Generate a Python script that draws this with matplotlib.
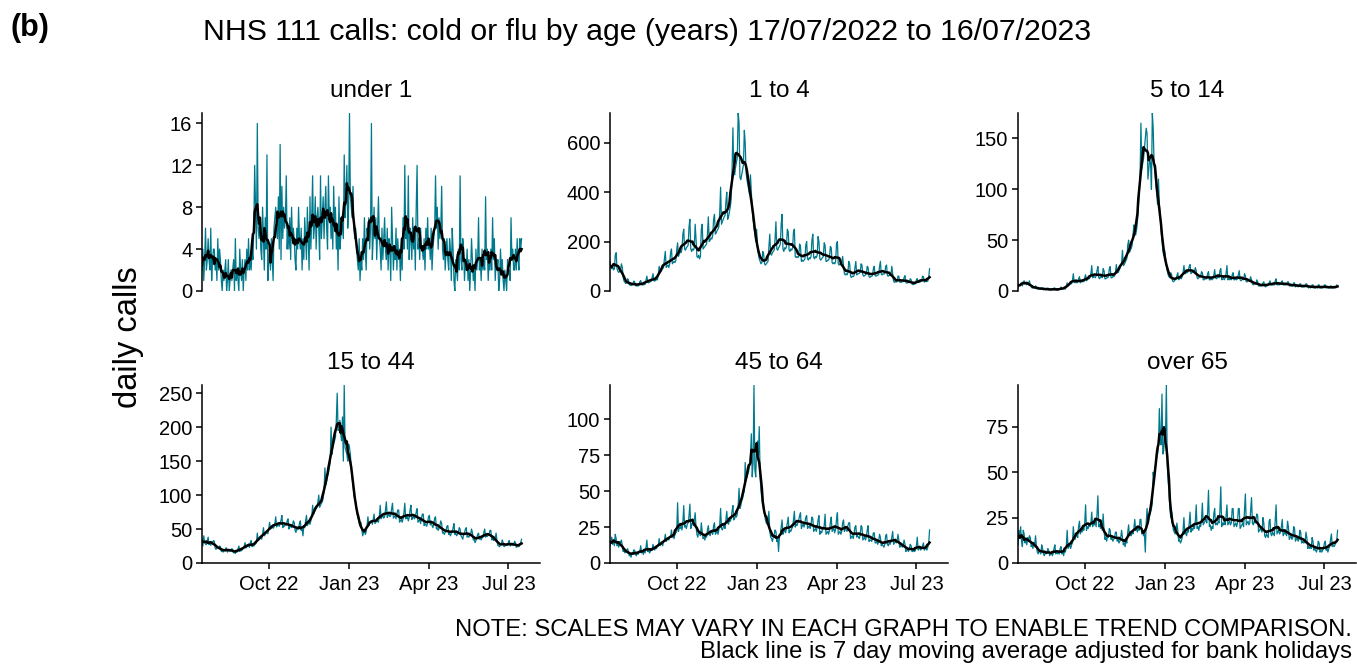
import matplotlib.pyplot as plt
import matplotlib.dates as mdates
import pandas as pd

plt.rcParams['font.family'] = ['Liberation Sans', 'DejaVu Sans']

dates = pd.date_range("2022-07-17", "2023-07-16", freq="D")

panel_titles = ["under 1", "1 to 4", "5 to 14", "15 to 44", "45 to 64", "over 65"]

# daily calls, one row = two weeks starting on a Sunday
under_1 = [
    2, 4, 1, 3, 6, 2, 3, 5, 3, 2, 6, 1, 3, 4,
    4, 2, 3, 1, 5, 2, 4, 3, 1, 0, 2, 1, 2, 3,
    0, 1, 3, 0, 1, 2, 1, 2, 3, 0, 5, 1, 2, 1,
    0, 4, 2, 1, 3, 0, 2, 3, 1, 4, 2, 5, 2, 3,
    2, 4, 3, 6, 12, 8, 4, 16, 6, 5, 7, 4, 3, 8,
    5, 2, 7, 4, 13, 1, 3, 4, 2, 5, 3, 1, 6, 7,
    8, 6, 5, 9, 4, 14, 3, 10, 5, 8, 6, 7, 11, 4,
    6, 4, 7, 3, 8, 5, 6, 5, 3, 2, 6, 4, 8, 5,
    4, 6, 2, 5, 3, 7, 5, 3, 8, 5, 2, 9, 4, 7,
    11, 5, 6, 9, 4, 7, 8, 6, 3, 11, 5, 7, 9, 5,
    8, 10, 6, 4, 11, 7, 8, 5, 7, 4, 10, 6, 8, 4,
    6, 2, 9, 4, 5, 7, 6, 5, 13, 7, 9, 12, 6, 8,
    17, 9, 8, 7, 10, 6, 5, 6, 4, 3, 2, 5, 1, 3,
    2, 5, 3, 7, 4, 2, 6, 5, 7, 4, 6, 16, 3, 5,
    8, 5, 7, 3, 6, 9, 5, 4, 2, 6, 3, 5, 7, 4,
    3, 6, 2, 5, 4, 1, 8, 5, 2, 4, 3, 6, 2, 5,
    3, 4, 1, 5, 2, 7, 4, 12, 5, 7, 4, 11, 3, 6,
    5, 3, 7, 4, 6, 2, 8, 12, 4, 5, 3, 6, 4, 4,
    3, 5, 2, 6, 4, 7, 4, 5, 3, 6, 2, 4, 5, 6,
    11, 6, 8, 4, 7, 5, 6, 10, 4, 3, 5, 2, 4, 5,
    3, 2, 5, 4, 1, 6, 4, 1, 0, 3, 2, 1, 4, 2,
    11, 3, 2, 5, 4, 1, 3, 2, 4, 1, 3, 0, 2, 5,
    3, 1, 2, 0, 4, 2, 3, 7, 2, 3, 1, 4, 2, 3,
    2, 9, 3, 4, 1, 3, 2, 4, 2, 7, 3, 5, 1, 3,
    2, 3, 0, 1, 4, 2, 3, 1, 0, 2, 1, 0, 3, 2,
    2, 1, 7, 3, 4, 2, 2, 4, 2, 5, 3, 2, 5, 4,
    5,
]

age_1_4 = [
    120, 95, 90, 100, 85, 90, 145, 155, 90, 80, 75, 80, 85, 110,
    95, 55, 40, 35, 30, 35, 50, 45, 25, 25, 22, 24, 26, 40,
    38, 22, 20, 21, 20, 24, 38, 42, 25, 24, 26, 25, 28, 45,
    60, 35, 33, 36, 38, 40, 55, 70, 42, 40, 44, 46, 45, 68,
    100, 75, 80, 85, 90, 95, 130, 160, 95, 100, 105, 95, 110, 155,
    170, 110, 115, 120, 115, 125, 165, 195, 140, 150, 160, 155, 170, 230,
    250, 170, 165, 175, 180, 185, 260, 290, 170, 160, 170, 165, 175, 270,
    210, 140, 135, 145, 130, 140, 250, 270, 170, 175, 180, 185, 190, 230,
    300, 200, 205, 215, 210, 225, 290, 310, 230, 235, 245, 250, 260, 320,
    420, 270, 280, 290, 300, 305, 360, 400, 290, 300, 320, 340, 370, 480,
    660, 480, 470, 500, 520, 540, 720, 680, 460, 450, 470, 490, 510, 650,
    600, 480, 450, 430, 410, 390, 470, 400, 330, 290, 260, 230, 200, 250,
    180, 150, 130, 120, 110, 115, 160, 150, 110, 105, 110, 115, 120, 180,
    230, 150, 145, 155, 160, 165, 210, 280, 170, 165, 175, 180, 190, 270,
    310, 170, 160, 175, 170, 180, 250, 240, 165, 160, 170, 165, 175, 240,
    250, 140, 135, 140, 135, 140, 190, 180, 120, 125, 120, 125, 130, 185,
    200, 130, 125, 135, 130, 140, 205, 230, 135, 130, 140, 135, 145, 220,
    200, 130, 125, 130, 135, 140, 195, 185, 120, 120, 125, 125, 135, 180,
    175, 115, 110, 115, 110, 120, 190, 200, 110, 105, 110, 105, 115, 140,
    100, 70, 65, 70, 65, 75, 120, 110, 60, 55, 60, 58, 62, 95,
    120, 65, 68, 70, 72, 75, 110, 105, 65, 60, 62, 65, 70, 100,
    95, 58, 55, 58, 60, 62, 90, 100, 62, 60, 62, 64, 66, 98,
    120, 68, 65, 70, 68, 72, 100, 105, 62, 60, 65, 62, 65, 100,
    70, 40, 35, 38, 36, 38, 60, 60, 36, 35, 36, 38, 38, 55,
    62, 34, 32, 33, 35, 36, 50, 45, 28, 26, 27, 28, 30, 45,
    50, 34, 35, 36, 38, 40, 60, 58, 36, 38, 40, 38, 40, 55,
    90,
]

age_5_14 = [
    3, 6, 5, 7, 8, 5, 9, 10, 8, 7, 6, 8, 7, 10,
    6, 4, 3, 3, 4, 3, 5, 4, 2, 2, 2, 2, 3, 3,
    3, 1, 2, 2, 1, 2, 3, 2, 1, 1, 1, 2, 1, 3,
    3, 1, 1, 1, 1, 2, 2, 4, 2, 2, 3, 2, 2, 4,
    8, 5, 6, 7, 8, 7, 10, 17, 9, 8, 9, 8, 9, 12,
    14, 8, 9, 9, 10, 9, 13, 16, 10, 11, 12, 12, 13, 17,
    25, 13, 14, 14, 13, 15, 20, 24, 13, 12, 14, 14, 13, 22,
    20, 12, 12, 13, 13, 14, 22, 24, 13, 13, 14, 14, 15, 18,
    26, 18, 18, 20, 22, 24, 28, 40, 25, 26, 28, 30, 32, 45,
    50, 38, 40, 42, 45, 55, 65, 62, 55, 60, 68, 80, 95, 110,
    165, 120, 125, 130, 140, 150, 160, 155, 110, 120, 130, 125, 100, 175,
    160, 125, 115, 105, 95, 85, 110, 85, 75, 60, 50, 40, 35, 40,
    32, 25, 20, 16, 14, 13, 18, 16, 10, 9, 10, 11, 12, 15,
    18, 11, 12, 13, 12, 14, 18, 25, 18, 17, 19, 18, 20, 24,
    26, 17, 18, 19, 18, 19, 23, 20, 13, 12, 13, 14, 14, 19,
    18, 11, 11, 12, 12, 12, 17, 19, 11, 11, 12, 11, 12, 15,
    21, 13, 12, 13, 14, 13, 20, 22, 11, 12, 12, 11, 13, 17,
    25, 11, 12, 11, 12, 11, 16, 18, 11, 11, 12, 11, 12, 16,
    20, 11, 10, 11, 12, 11, 17, 15, 9, 9, 10, 10, 10, 14,
    11, 7, 6, 7, 7, 7, 11, 9, 5, 5, 5, 5, 5, 8,
    9, 5, 4, 5, 5, 6, 8, 10, 6, 6, 6, 6, 6, 10,
    12, 6, 6, 7, 6, 7, 9, 10, 6, 6, 6, 6, 7, 9,
    9, 5, 5, 5, 5, 5, 8, 8, 4, 5, 5, 4, 5, 7,
    7, 4, 4, 4, 4, 5, 7, 7, 4, 3, 4, 3, 4, 6,
    6, 3, 3, 3, 4, 3, 6, 6, 3, 3, 3, 3, 4, 6,
    6, 3, 3, 4, 3, 3, 5, 5, 3, 3, 3, 4, 3, 6,
    5,
]

age_15_44 = [
    35, 25, 40, 30, 28, 27, 32, 38, 27, 29, 26, 31, 30, 33,
    32, 22, 20, 24, 23, 22, 25, 24, 17, 18, 16, 19, 18, 22,
    22, 16, 18, 19, 17, 20, 21, 20, 15, 16, 14, 17, 16, 21,
    25, 17, 19, 18, 20, 22, 24, 30, 22, 25, 24, 28, 23, 30,
    33, 24, 26, 25, 27, 28, 30, 44, 33, 34, 36, 38, 35, 42,
    52, 40, 42, 44, 46, 43, 50, 60, 50, 52, 55, 51, 53, 58,
    68, 53, 55, 57, 54, 58, 63, 70, 52, 55, 54, 58, 56, 62,
    65, 50, 53, 55, 52, 54, 62, 60, 48, 45, 52, 49, 50, 58,
    62, 48, 50, 40, 55, 52, 62, 70, 55, 58, 60, 57, 62, 68,
    85, 72, 75, 78, 80, 82, 90, 100, 82, 85, 88, 90, 95, 105,
    140, 115, 120, 128, 132, 140, 148, 200, 160, 170, 175, 180, 185, 210,
    250, 195, 200, 210, 190, 180, 215, 150, 262, 170, 165, 160, 150, 175,
    170, 160, 140, 125, 115, 100, 95, 90, 80, 70, 65, 60, 55, 60,
    50, 40, 45, 48, 42, 46, 55, 68, 55, 58, 60, 62, 57, 64,
    72, 58, 60, 62, 61, 60, 70, 85, 65, 68, 70, 66, 68, 78,
    90, 67, 70, 72, 68, 70, 80, 88, 66, 68, 70, 65, 72, 78,
    78, 60, 62, 64, 60, 65, 74, 88, 65, 66, 68, 62, 67, 78,
    85, 64, 66, 70, 65, 68, 75, 80, 60, 62, 64, 58, 66, 72,
    72, 55, 58, 56, 54, 60, 68, 70, 56, 62, 55, 52, 58, 66,
    68, 50, 52, 48, 51, 55, 62, 58, 44, 45, 42, 45, 48, 54,
    55, 42, 43, 40, 44, 45, 52, 58, 42, 44, 40, 42, 45, 52,
    50, 40, 38, 35, 42, 44, 50, 52, 38, 40, 38, 41, 42, 50,
    45, 34, 35, 30, 33, 37, 42, 44, 35, 36, 34, 37, 38, 45,
    50, 38, 40, 39, 41, 42, 48, 48, 34, 36, 33, 35, 37, 44,
    32, 26, 25, 24, 27, 28, 34, 30, 24, 25, 26, 27, 26, 31,
    33, 25, 26, 27, 26, 27, 32, 30, 23, 24, 25, 24, 26, 30,
    35,
]

age_45_64 = [
    12, 14, 18, 13, 16, 12, 20, 17, 12, 13, 11, 15, 14, 16,
    12, 8, 9, 7, 8, 9, 10, 8, 5, 6, 4, 7, 6, 9,
    9, 6, 5, 7, 6, 8, 8, 12, 7, 8, 6, 9, 7, 11,
    16, 8, 9, 7, 8, 9, 10, 13, 10, 9, 11, 10, 12, 12,
    17, 12, 13, 14, 12, 15, 16, 20, 15, 16, 17, 16, 18, 18,
    23, 18, 19, 17, 20, 21, 22, 42, 22, 25, 24, 26, 23, 28,
    40, 25, 26, 24, 27, 28, 33, 41, 24, 27, 28, 26, 30, 35,
    25, 20, 18, 22, 21, 19, 28, 22, 17, 18, 16, 19, 18, 23,
    26, 20, 19, 21, 22, 20, 26, 28, 20, 21, 22, 20, 23, 27,
    38, 24, 23, 25, 26, 24, 30, 36, 28, 27, 30, 29, 31, 36,
    40, 30, 31, 33, 32, 34, 40, 52, 38, 40, 43, 45, 48, 50,
    70, 58, 60, 62, 64, 68, 75, 90, 60, 70, 124, 65, 60, 80,
    85, 75, 95, 60, 50, 45, 40, 40, 35, 30, 28, 27, 30, 36,
    22, 18, 17, 15, 18, 20, 23, 22, 15, 17, 8, 19, 20, 25,
    30, 20, 22, 23, 21, 24, 28, 32, 21, 23, 22, 24, 25, 30,
    36, 25, 27, 26, 28, 30, 33, 35, 24, 26, 27, 25, 28, 32,
    33, 24, 25, 26, 24, 27, 32, 31, 22, 23, 24, 22, 25, 30,
    33, 20, 22, 21, 23, 24, 26, 34, 20, 21, 22, 20, 23, 28,
    32, 22, 23, 24, 21, 24, 30, 35, 20, 21, 22, 20, 22, 28,
    30, 22, 24, 23, 22, 26, 28, 28, 17, 18, 19, 17, 20, 25,
    26, 18, 19, 18, 17, 20, 26, 25, 16, 17, 18, 16, 18, 23,
    26, 15, 16, 16, 15, 17, 21, 21, 14, 14, 15, 13, 15, 20,
    18, 12, 13, 12, 11, 13, 19, 20, 13, 12, 14, 13, 15, 18,
    22, 13, 14, 15, 14, 15, 20, 16, 11, 12, 12, 11, 13, 16,
    13, 8, 9, 9, 8, 10, 13, 12, 8, 8, 9, 8, 9, 12,
    18, 9, 10, 10, 9, 10, 12, 14, 9, 10, 10, 9, 11, 14,
    23,
]

over_65 = [
    10, 18, 14, 20, 12, 9, 18, 16, 11, 13, 10, 14, 12, 15,
    14, 9, 10, 8, 11, 10, 15, 9, 6, 5, 7, 6, 5, 10,
    8, 5, 4, 6, 5, 6, 8, 7, 4, 5, 6, 4, 5, 8,
    10, 5, 6, 5, 6, 5, 8, 9, 5, 6, 4, 7, 6, 9,
    18, 8, 9, 10, 8, 10, 11, 20, 14, 13, 15, 16, 14, 20,
    23, 16, 18, 17, 19, 18, 22, 32, 18, 20, 19, 21, 20, 22,
    28, 20, 22, 21, 23, 20, 27, 37, 20, 21, 19, 22, 18, 27,
    18, 13, 14, 12, 15, 14, 19, 18, 13, 14, 12, 13, 14, 17,
    17, 12, 13, 11, 12, 14, 18, 14, 10, 11, 9, 12, 11, 17,
    21, 15, 16, 15, 17, 16, 19, 24, 18, 19, 17, 20, 18, 24,
    24, 16, 17, 15, 16, 6, 22, 30, 22, 24, 26, 28, 30, 33,
    50, 45, 52, 55, 58, 60, 65, 85, 70, 65, 93, 60, 62, 75,
    70, 98, 55, 45, 40, 30, 25, 28, 22, 18, 17, 16, 18, 22,
    18, 12, 13, 11, 12, 14, 18, 25, 16, 17, 15, 18, 17, 22,
    28, 17, 19, 18, 20, 19, 23, 32, 19, 20, 18, 21, 20, 24,
    33, 21, 22, 23, 24, 22, 28, 40, 20, 21, 18, 20, 19, 27,
    30, 21, 22, 21, 23, 22, 29, 42, 20, 22, 21, 23, 21, 26,
    32, 21, 22, 23, 21, 22, 30, 30, 20, 21, 22, 20, 22, 30,
    30, 19, 20, 21, 22, 20, 29, 38, 21, 22, 23, 21, 22, 29,
    36, 22, 21, 23, 22, 24, 27, 26, 17, 18, 19, 18, 17, 25,
    22, 15, 14, 16, 15, 14, 23, 24, 16, 15, 17, 16, 15, 23,
    32, 16, 17, 18, 16, 17, 20, 24, 15, 16, 17, 16, 15, 23,
    20, 13, 14, 15, 13, 14, 20, 19, 12, 13, 14, 12, 13, 18,
    17, 11, 12, 11, 12, 11, 17, 14, 8, 9, 8, 9, 8, 14,
    12, 7, 8, 7, 6, 8, 12, 11, 6, 7, 6, 7, 8, 11,
    12, 7, 8, 6, 8, 9, 13, 16, 9, 10, 9, 10, 11, 12,
    18,
]

series = [under_1, age_1_4, age_5_14, age_15_44, age_45_64, over_65]
y_ticks = [
    [0, 4, 8, 12, 16],
    [0, 200, 400, 600],
    [0, 50, 100, 150],
    [0, 50, 100, 150, 200, 250],
    [0, 25, 50, 75, 100],
    [0, 25, 50, 75],
]

teal = "#00798c"

fig = plt.figure(figsize=(13.57, 6.64), dpi=100)
lefts = [202 / 1357, 610 / 1357, 1018 / 1357]
bottoms = [1 - 291 / 664, 1 - 563 / 664]
w, h = 338 / 1357, 178 / 664

for i, (name, vals) in enumerate(zip(panel_titles, series)):
    row, col = divmod(i, 3)
    ax = fig.add_axes([lefts[col], bottoms[row], w, h])
    s = pd.Series(vals, index=dates)
    ax.plot(dates, s, color=teal, lw=0.9)
    # 7 day centred moving average
    ax.plot(dates, s.rolling(7, center=True, min_periods=1).mean(), color="black", lw=1.8)
    ax.set_xlim(pd.Timestamp("2022-07-17"), pd.Timestamp("2023-08-06"))
    ax.set_ylim(0, max(vals))
    ax.set_yticks(y_ticks[i])
    ax.set_title(name, fontsize=17.5, pad=11.5)
    for side in ["top", "right"]:
        ax.spines[side].set_visible(False)
    for side in ["left", "bottom"]:
        ax.spines[side].set_linewidth(1.1)
    ax.tick_params(labelsize=14.5, length=4.5, width=1.1, pad=2.5, colors="black")
    ax.tick_params(axis="x", pad=4)
    ax.xaxis.set_major_locator(mdates.MonthLocator(bymonth=[1, 4, 7, 10]))
    ax.xaxis.set_major_formatter(mdates.DateFormatter("%b %y"))
    if row == 0:
        ax.spines["bottom"].set_visible(False)
        ax.tick_params(axis="x", bottom=False, labelbottom=False)

fig.text(10 / 1357, 1 - 36 / 664, "(b)", fontsize=22, fontweight="bold", va="baseline")
fig.text(203 / 1357, 1 - 40 / 664,
         "NHS 111 calls: cold or flu by age (years) 17/07/2022 to 16/07/2023",
         fontsize=21.8, va="baseline")
fig.text(129 / 1357, 1 - 337 / 664, "daily calls", fontsize=23.5, rotation=90,
         ha="center", va="center")
fig.text(1352 / 1357, 1 - 636 / 664,
         "NOTE: SCALES MAY VARY IN EACH GRAPH TO ENABLE TREND COMPARISON.",
         fontsize=17.2, ha="right", va="baseline")
fig.text(1352 / 1357, 1 - 658 / 664,
         "Black line is 7 day moving average adjusted for bank holidays",
         fontsize=17.2, ha="right", va="baseline")

fig.savefig("out.png", dpi=100)
